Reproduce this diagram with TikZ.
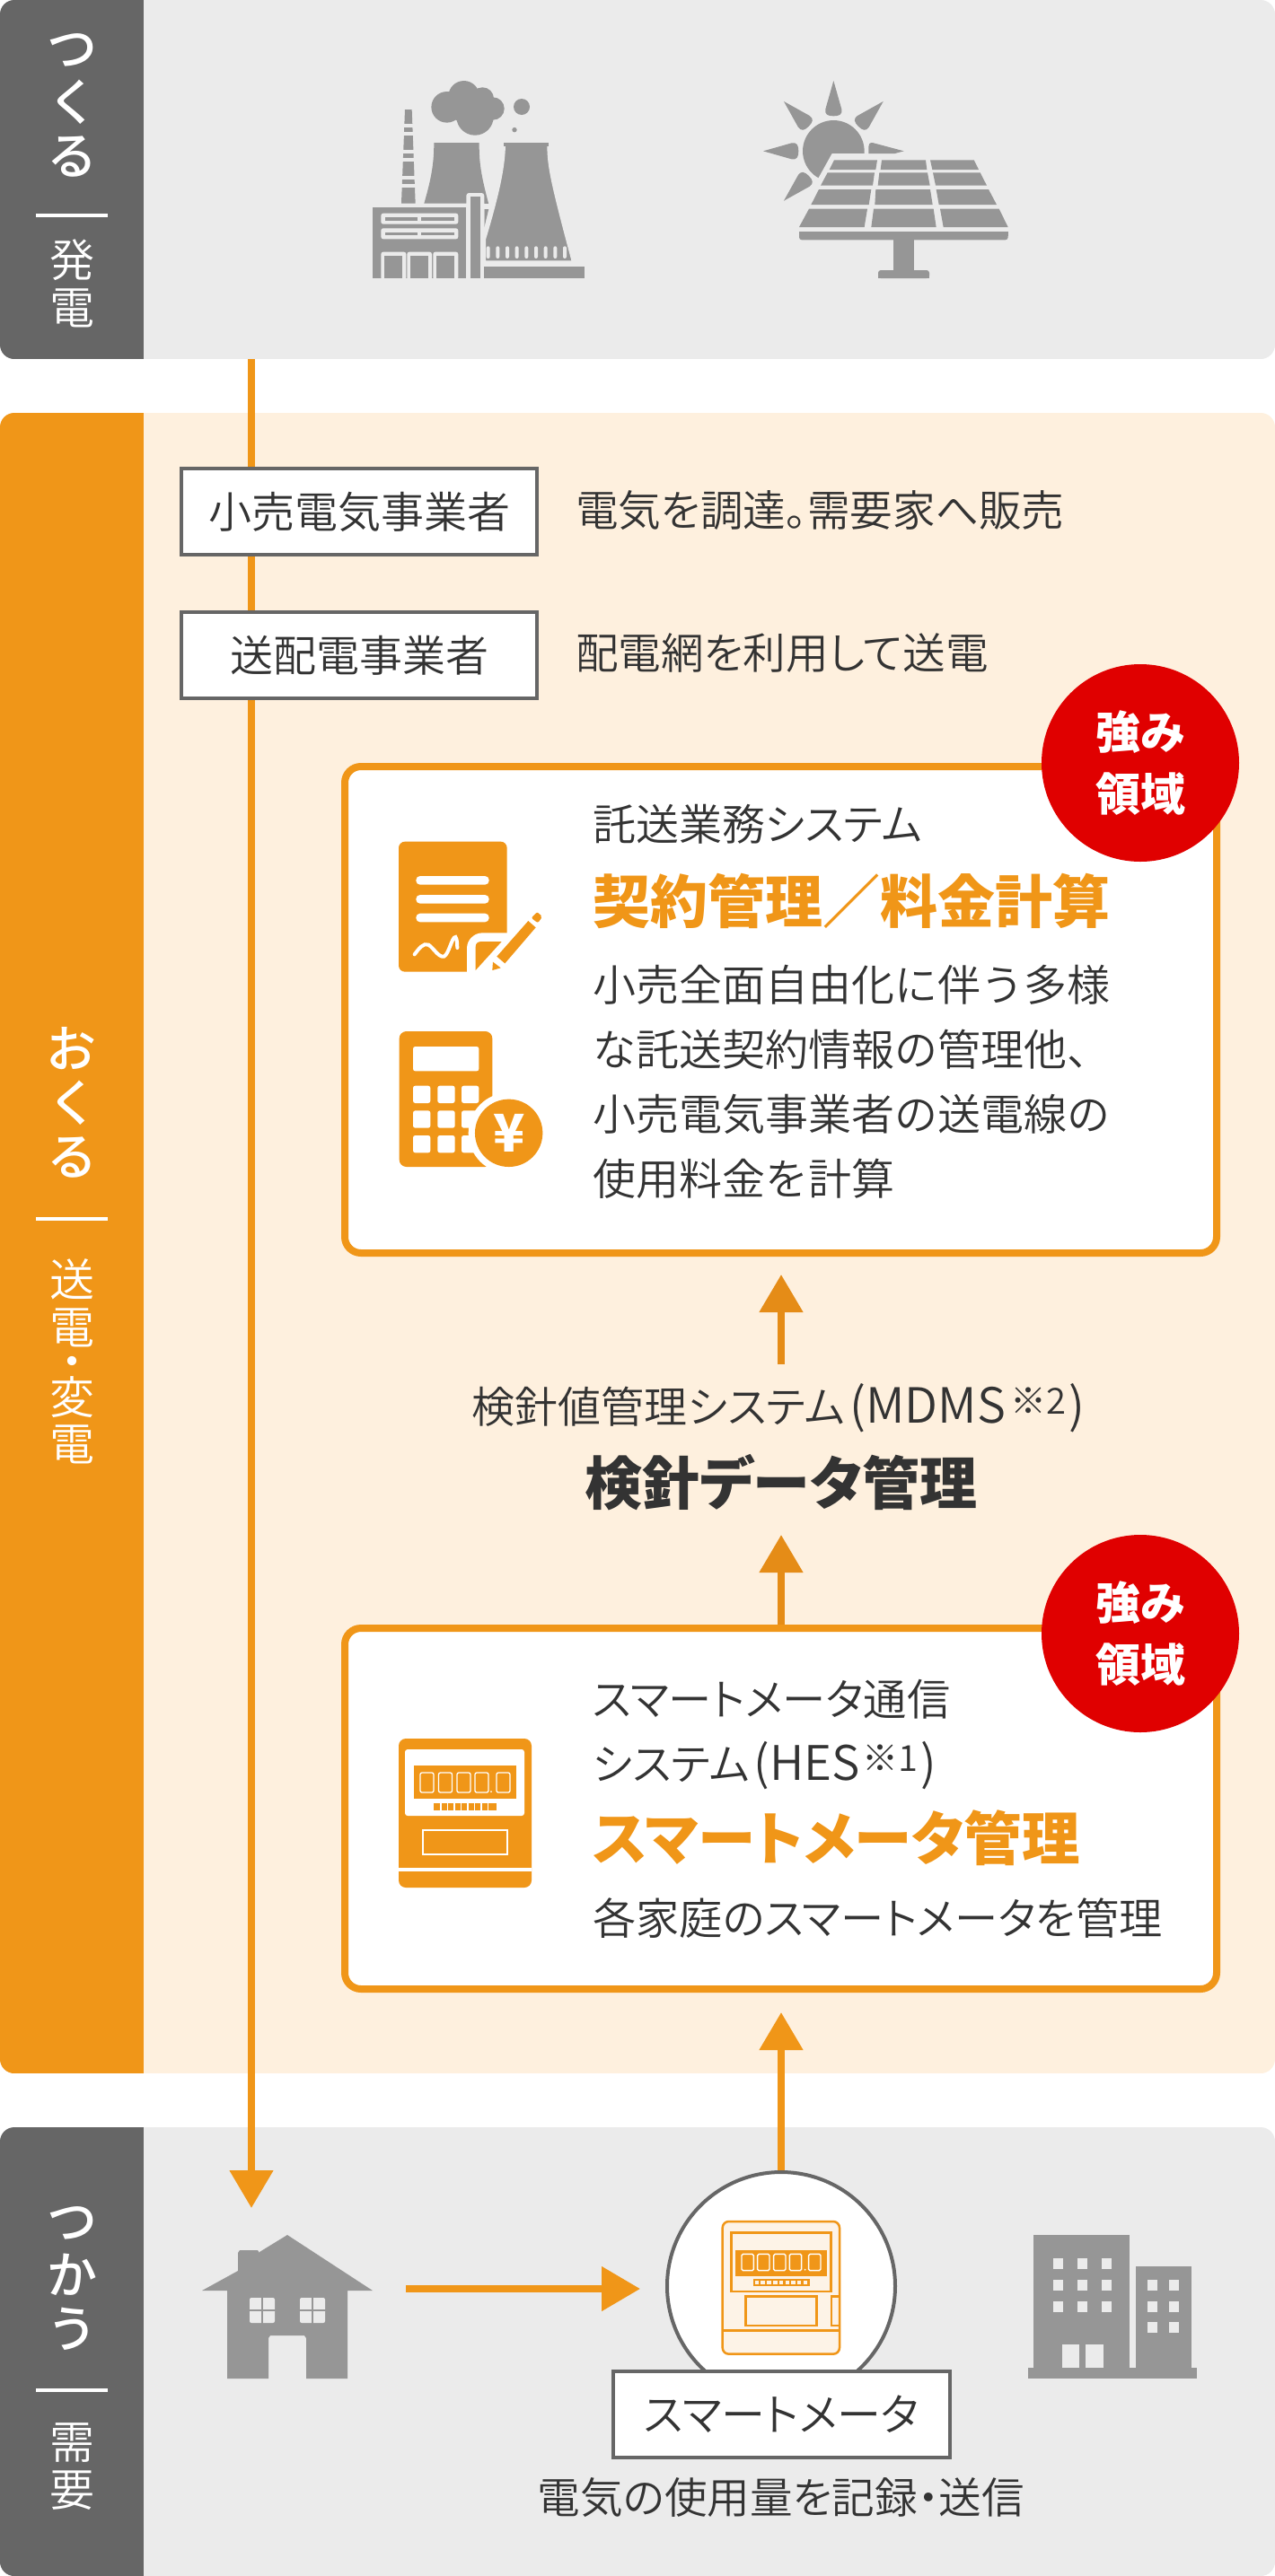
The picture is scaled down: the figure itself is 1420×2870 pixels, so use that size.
\documentclass[tikz,border=0pt]{standalone}
\usepackage{fontspec}
\usetikzlibrary{arrows.meta}
\newfontfamily\jp[RawFeature=+palt]{Noto Sans CJK JP DemiLight}
\newfontfamily\jpn{Noto Sans CJK JP DemiLight}
\newfontfamily\jb[RawFeature=+palt]{Noto Sans CJK JP}
\newfontfamily\jm[RawFeature=+palt]{Noto Sans CJK JP Medium}
\newcommand{\fsz}[1]{\fontsize{#1pt}{#1pt}\selectfont}
\definecolor{orng}{HTML}{F09618}
\definecolor{orngd}{HTML}{E58C17}
\definecolor{lorng}{HTML}{FEF0DE}
\definecolor{bandg}{HTML}{EBEBEB}
\definecolor{darkg}{HTML}{666666}
\definecolor{icong}{HTML}{969696}
\definecolor{redc}{HTML}{E00000}
\definecolor{txt}{HTML}{333333}
\definecolor{mfill}{HTML}{FDF3E7}
\tikzset{
  txtnode/.style={inner sep=0pt,outer sep=0pt,text=txt,font=\jp\fsz{48}},
  leftt/.style={txtnode,anchor=west},
  labelbox/.style={draw=darkg,line width=4pt,fill=white,rectangle,inner sep=0pt,text=txt,font=\jp\fsz{48}},
  card/.style={draw=orng,line width=8pt,fill=white,rounded corners=18pt,rectangle,inner sep=0pt},
  badge/.style={circle,fill=redc,minimum size=220pt,inner sep=0pt,outer sep=0pt},
  badget/.style={inner sep=0pt,text=white,font=\jb\bfseries\fsz{50}},
  bigside/.style={inner sep=0pt,text=white,align=center,font={\jm\fontsize{56pt}{60pt}\selectfont\lineskip=0pt\lineskiplimit=-1000pt}},
  smallside/.style={inner sep=0pt,text=white,align=center,font={\jp\fontsize{50pt}{53pt}\selectfont\lineskip=0pt\lineskiplimit=-1000pt}},
  flow/.style={draw=orng,line width=8pt,-{Triangle[length=42pt,width=47pt]}},
  flowd/.style={draw=orngd,line width=8pt,-{Triangle[length=42pt,width=47pt]}},
  zm/.style={x=0.33333pt,y=-0.33333pt},
}
\begin{document}
\begin{tikzpicture}[x=1pt,y=-1pt]
\useasboundingbox (0,0) rectangle (1420,2870);
\fill[white] (0,0) rectangle (1420,2870);
% bands
\begin{scope}
\clip[rounded corners=16pt] (0,0) rectangle (1420,400);
\fill[bandg] (0,0) rectangle (1420,400);
\fill[darkg] (0,0) rectangle (160,400);
\end{scope}
\begin{scope}
\clip[rounded corners=16pt] (0,460) rectangle (1420,2310);
\fill[lorng] (0,460) rectangle (1420,2310);
\fill[orng] (0,460) rectangle (160,2310);
\end{scope}
\begin{scope}
\clip[rounded corners=16pt] (0,2370) rectangle (1420,2870);
\fill[bandg] (0,2370) rectangle (1420,2870);
\fill[darkg] (0,2370) rectangle (160,2870);
\end{scope}
% side labels
\node[bigside] (sideMake) at (80,117) {つ\\く\\る};
\fill[white] (40,238) rectangle (120,242);
\node[smallside] (sideGen) at (80,316) {発\\電};
\node[bigside] (sideSend) at (80,1228) {お\\く\\る};
\fill[white] (40,1356) rectangle (120,1360);
\node[smallside] (sideTrans) at (80,1517) {送\\電\\[-15pt]・\\[-13pt]変\\[-1pt]電};
\node[bigside] (sideUse) at (80,2539) {つ\\か\\う};
\fill[white] (40,2661) rectangle (120,2665);
\node[smallside] (sideDem) at (80,2748) {需\\要};
% long connector
\coordinate (lineStart) at (280,400);
\coordinate (houseTop) at (280,2460);
\draw[flow] (lineStart) -- (houseTop);
% boxes
\node[labelbox,minimum width=396pt,minimum height=96pt] (retail) at (400,570) {小売電気事業者};
\node[labelbox,minimum width=396pt,minimum height=96pt] (dist) at (400,730) {送配電事業者};
\node[leftt,font=\jp\fsz{47.6}] (retailT) at (641,569) {電気を調達。需要家へ販売};
\node[leftt,font=\jp\fsz{47.6}] (distT) at (641,728) {配電網を利用して送電};
% cards
\node[card,minimum width=971pt,minimum height=542pt] (card1) at (869.5,1125) {};
\node[card,minimum width=971pt,minimum height=402pt] (card2) at (869.5,2015) {};
% arrows between cards
\coordinate (mdmsTop) at (870,1520);
\coordinate (mdmsBottom) at (870,1710);
\draw[flowd,shorten >=20pt] (mdmsTop) -- (mdmsTop |- card1.south);
\draw[flowd] (mdmsBottom |- card2.north) -- (mdmsBottom);
% texts card 1
\node[leftt] (c1a) at (660,918) {託送業務システム};
\node[leftt,font=\jb\bfseries\fsz{64},text=orng] (c1b) at (660,1004) {契約管理／料金計算};
\node[leftt,font=\jpn\fsz{48}] (c1c) at (660,1097) {小売全面自由化に伴う多様};
\node[leftt,font=\jpn\fsz{48}] (c1d) at (660,1169) {な託送契約情報の管理他、};
\node[leftt,font=\jpn\fsz{48}] (c1e) at (660,1241) {小売電気事業者の送電線の};
\node[leftt,font=\jpn\fsz{48}] (c1f) at (660,1313) {使用料金を計算};
% texts mid
\node[txtnode,anchor=base] (mdmsA) at (867,1585) {検針値管理システム\hspace{6pt}{\fsz{54}(MDMS\hspace{5pt}\raisebox{10pt}{\fsz{40}※2}\hspace{3pt})}};
\node[txtnode,font=\jb\bfseries\fsz{64}] (mdmsB) at (870,1652) {検針データ管理};
% texts card 2
\node[leftt,font=\jp\fsz{48.3}] (c2a) at (660,1893) {スマートメータ通信};
\node[txtnode,anchor=base west] (c2b) at (660,1983) {システム\hspace{5pt}{\fsz{53}(HES\hspace{3pt}\raisebox{10pt}{\fsz{40}※1}\hspace{3pt})}};
\node[leftt,font=\jb\bfseries\fsz{64.5},text=orng] (c2c) at (660,2048) {スマートメータ管理};
\node[leftt,font=\jp\fsz{48.3}] (c2d) at (660,2137) {各家庭のスマートメータを管理};
% badges
\node[badge] (badge1) at (1270,850) {};
\node[badget] (b1a) at (1270,816) {強み};
\node[badget] (b1b) at (1270,885) {領域};
\node[badge] (badge2) at (1270,1820) {};
\node[badget] (b2a) at (1270,1786) {強み};
\node[badget] (b2b) at (1270,1855) {領域};
% document + calculator icons
\begin{scope}[shift={(400,900)},zm]
\fill[orng,rounded corners=7pt] (132,113) rectangle (494,548);
\foreach \yy in {228,291,353}{\fill[white,rounded corners=4.5pt] (190,\yy) rectangle (434,\yy+29);}
\draw[white,line width=4pt,line cap=round] (185,490) .. controls (200,470) and (215,450) .. (232,458) .. controls (250,470) and (265,500) .. (283,497) .. controls (300,490) and (310,430) .. (322,432) .. controls (328,440) and (327,455) .. (328,468);
\fill[white] (360,560) -- (360,470) .. controls (360,440) and (385,418) .. (412,418) -- (500,418) -- (500,560) -- cycle;
\fill[orng] (389,543) -- (389,465) .. controls (389,452) and (397,447) .. (410,447) -- (476,447) -- cycle;
\fill[orng] (565,378) -- (590,400) -- (487,520) -- (460,497) -- cycle;
\fill[orng] (447,515) -- (473,535) -- (445,543) -- cycle;
\fill[orng,rounded corners=2pt] (575,368) -- (595,348) -- (612,364) -- (597,385) -- cycle;
\fill[orng,rounded corners=8pt] (134,747) rectangle (445,1200);
\fill[white,rounded corners=2.5pt] (180,798) rectangle (400,880);
\foreach \xx in {180,262,342}{\foreach \yy in {929,1012,1095}{\fill[white,rounded corners=2.5pt] (\xx,\yy) rectangle (\xx+58,\yy+58);}}
\fill[white] (500,1087) circle[radius=45pt];
\fill[orng] (500,1087) circle[radius=37.7pt];
\node[inner sep=0pt,text=white,font=\jb\bfseries\fsz{58}] (yen) at (500,1087) {¥};
\end{scope}
% meter icon in card 2
\fill[orng,rounded corners=8pt] (444,1937) rectangle (592,2103);
\fill[white,rounded corners=3pt] (451,1949) rectangle (584,2023);
\fill[orng] (461,1967) rectangle (575,2004);
\foreach \xx in {468,488.5,509,529,553}{\draw[white,line width=1.3pt,rounded corners=2pt] (\xx,1975) rectangle (\xx+15,1997);}
\fill[white] (547,1996) circle[radius=1pt];
\fill[orng] (483,2009) rectangle (553,2017);
\foreach \xx in {490,497.5,505,512.5,520,527.5,535,542.5}{\fill[white] (\xx,2009) rectangle (\xx+1.6,2017);}
\draw[white,line width=2.5pt] (471,2039) rectangle (565,2066);
\fill[white] (444,2081) rectangle (592,2085);
% plant icon
\begin{scope}[shift={(400,60)},zm]
\fill[icong] (153,186) -- (176,186) -- (188,500) -- (141,500) -- cycle;
\foreach \ya/\yb in {233/246,262/274,320/333,349/361,407/420,435/447}{\fill[bandg] (130,\ya) rectangle (200,\yb);}
\fill[icong] (293,178) circle[radius=17.3pt];
\fill[icong] (350,142) circle[radius=17.3pt];
\fill[icong] (412,150) circle[radius=12.7pt];
\fill[icong] (447,183) circle[radius=12.7pt];
\fill[icong] (387,210) circle[radius=20.7pt];
\fill[icong] (355,170) circle[radius=20pt];
\fill[icong] (543,177) circle[radius=9pt];
\fill[icong] (519,254) circle[radius=2.7pt];
\fill[icong] (250,297) -- (401,297) .. controls (401,360) and (405,400) .. (435,510) -- (418,580) -- (418,500) -- (217,500) .. controls (240,420) and (250,370) .. (250,297) -- cycle;
\fill[bandg] (418,500) rectangle (445,520);
\fill[icong,draw=bandg,line width=4pt] (483,297) -- (634,297) .. controls (634,370) and (640,410) .. (717,697) -- (417,697) -- (417,620) .. controls (465,460) and (483,370) .. (483,297) -- cycle;
\fill[icong] (483,297) -- (634,297) -- (634,310) -- (483,310) -- cycle;
\foreach \xx in {431,463,495,527,559,591,623,655,687}{\fill[bandg,rounded corners=2pt] (\xx-6,643) rectangle (\xx+6,684);}
\fill[icong] (46,513) rectangle (358,750);
\fill[bandg,rounded corners=3pt] (358,465) rectangle (418,750);
\fill[icong] (371,477) rectangle (405,750);
\fill[icong] (417,711) rectangle (753,750);
\foreach \yy in {533,583}{
  \fill[bandg,rounded corners=2.5pt] (73,\yy) rectangle (331,\yy+36);
  \fill[icong] (86,\yy+13) rectangle (196,\yy+24);
  \fill[icong] (208,\yy+13) rectangle (319,\yy+24);
}
\foreach \xa/\xb in {73/157,160/243,247/331}{
  \fill[bandg,rounded corners=2.5pt] (\xa,662) rectangle (\xb,755);
  \fill[icong] (\xa+12,675) rectangle (\xb-12,750);
}
\fill[bandg] (0,750) rectangle (800,770);
\end{scope}
% solar icon
\begin{scope}[shift={(830,70)},zm]
\fill[icong] (295,295) circle[radius=34.3pt];
\fill[bandg] (290,303) -- (420,303) -- (420,420) -- (225,420) -- cycle;
\foreach \a in {0,45,-45,90,135}{
  \begin{scope}[shift={(295,295)},rotate=\a]
  \fill[icong] (0,-235) -- (27,-140) .. controls (30,-123) and (20,-117) .. (0,-117) .. controls (-20,-117) and (-30,-123) .. (-27,-140) -- cycle;
  \end{scope}
}
\fill[icong] (530,295) -- (425,267) .. controls (415,267) and (412,272) .. (412,280) -- (412,303) -- (500,303) -- cycle;
\fill[icong] (297,325) -- (441,325) -- (436,357) -- (281,357) -- cycle;
\fill[icong] (456,325) -- (603,325) -- (607,357) -- (452,357) -- cycle;
\fill[icong] (618,325) -- (764,325) -- (780,357) -- (625,357) -- cycle;
\fill[icong] (275,367) -- (432,367) -- (426,410) -- (252,410) -- cycle;
\fill[icong] (448,367) -- (609,367) -- (617,410) -- (443,410) -- cycle;
\fill[icong] (627,367) -- (785,367) -- (807,410) -- (636,410) -- cycle;
\fill[icong] (246,423) -- (421,423) -- (413,474) -- (220,474) -- cycle;
\fill[icong] (436,423) -- (618,423) -- (626,474) -- (433,474) -- cycle;
\fill[icong] (638,423) -- (813,423) -- (840,474) -- (647,474) -- cycle;
\fill[icong] (213,488) -- (408,488) -- (398,549) -- (180,549) -- cycle;
\fill[icong] (429,488) -- (629,488) -- (638,549) -- (421,549) -- cycle;
\fill[icong] (651,488) -- (848,488) -- (878,549) -- (662,549) -- cycle;
\fill[icong,rounded corners=3pt] (180,565) rectangle (878,592);
\fill[icong] (180,565) rectangle (878,578);
\fill[icong] (496,590) rectangle (564,700);
\fill[icong,rounded corners=3pt] (444,693) rectangle (615,720);
\fill[icong] (444,710) rectangle (615,720);
\end{scope}
% house
\fill[icong] (265,2530) -- (265,2510) -- (267,2507) -- (287,2507) -- (289,2510) -- (289,2509) -- (320,2490) -- (415,2552) -- (387,2552) -- (387,2650) -- (341,2650) -- (341,2605) -- (339,2602) -- (301,2602) -- (299,2605) -- (299,2650) -- (253,2650) -- (253,2552) -- (225,2552) -- cycle;
\foreach \xx in {278,334}{
  \fill[bandg,rounded corners=2pt] (\xx,2560) rectangle (\xx+28,2588);
  \fill[icong] (\xx+13,2558) rectangle (\xx+15,2590);
  \fill[icong] (\xx-1,2573) rectangle (\xx+29,2575);
}
% building
\fill[icong] (1151,2490) rectangle (1258,2650);
\fill[icong] (1265,2525) rectangle (1327,2650);
\fill[icong] (1145,2638) rectangle (1333,2650);
\foreach \xx in {1173,1200,1227}{\foreach \yy in {2516,2540,2564}{\fill[bandg] (\xx,\yy) rectangle (\xx+11,\yy+12);}}
\foreach \xx in {1278,1302}{\foreach \yy in {2540,2564,2587}{\fill[bandg] (\xx,\yy) rectangle (\xx+11,\yy+12);}}
\fill[bandg] (1183,2612) rectangle (1202,2638);
\fill[bandg] (1209,2612) rectangle (1229,2638);
% meter circle
\node[circle,draw=darkg,line width=4pt,fill=white,minimum size=254pt,inner sep=0pt] (meterC) at (870,2547) {};
\begin{scope}[shift={(740,2440)},zm]
\draw[orng,fill=mfill,line width=2.5pt,rounded corners=7pt] (194,105) rectangle (585,548);
\draw[orng,line width=2.5pt] (224,143) rectangle (556,339);
\fill[orng] (238,200) rectangle (542,288);
\foreach \xx in {258,311,365,418,482}{\draw[white,line width=1.4pt,rounded corners=1.5pt] (\xx,214) rectangle (\xx+40,269);}
\fill[white] (470,266) circle[radius=1pt];
\fill[orng] (296,298) rectangle (485,322);
\foreach \xx in {302,322,343,364,384,404,424,444,465}{\fill[mfill] (\xx,304) rectangle (\xx+13,316);}
\draw[orng,line width=2.5pt] (272,355) rectangle (509,453);
\draw[orng,line width=2.5pt] (585,355) -- (558,355) -- (558,453) -- (585,453);
\draw[orng,line width=2.5pt] (194,470) -- (585,470);
\end{scope}
\node[labelbox,minimum width=375pt,minimum height=96pt,font=\jp\fsz{49}] (meterL) at (870.5,2690) {スマートメータ};
\node[txtnode,font=\jp\fsz{47.6}] (meterT) at (870,2782) {電気の使用量を記録・送信};
% house to meter
\coordinate (houseRight) at (452,2550);
\draw[flow,-{Triangle[length=43pt,width=48pt]},shorten >=28pt] (houseRight) -- (houseRight -| meterC.west);
% meter to card 2
\draw[flow,shorten >=22pt] (meterC.north) -- (meterC.north |- card2.south);
\end{tikzpicture}
\end{document}
